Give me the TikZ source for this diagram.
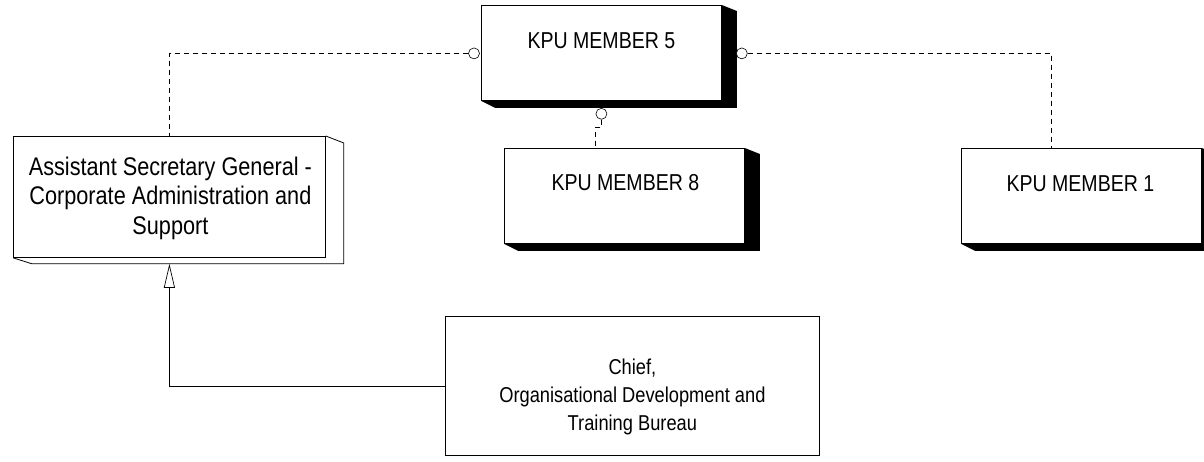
\documentclass[tikz,border=0pt]{standalone}
\usepackage{fontspec}
\setmainfont{Liberation Sans}
\newfontfamily\nsans[FakeStretch=0.85]{Liberation Sans}
\usetikzlibrary{arrows.meta,calc}
\begin{document}
\begin{tikzpicture}[x=1pt,y=-1pt,
  box/.style={draw=black,line width=0.8pt,fill=white,inner sep=0pt,anchor=north west},
  port/.style={circle,draw=black,line width=0.6pt,fill=white,minimum size=11pt,inner sep=0pt},
  link/.style={draw=black,line width=0.7pt,dash pattern=on 5pt off 4pt},
  solidlink/.style={draw=black,line width=0.7pt},
  kputext/.style={font=\nsans\fontsize{23}{28}\selectfont,inner sep=0pt},
  asgtext/.style={font=\nsans\fontsize{25.5}{29.5}\selectfont,inner sep=0pt,align=center},
  chieftext/.style={font=\nsans\fontsize{21.5}{28}\selectfont,inner sep=0pt,align=center}
]
\useasboundingbox (0,0) rectangle (1204,461);
\fill[white] (0,0) rectangle (1204,461);

% KPU MEMBER 5
\node[box,minimum width=240pt,minimum height=95pt] (k5) at (481,5) {};
\fill[black] (k5.north east) -- ++(15,6) -- ($(k5.south east)+(15,7)$) -- ($(k5.south west)+(14,7)$) -- (k5.south west) -- (k5.south east) -- cycle;
\node[kputext] (k5t) at ($(k5.center)+(0,-12.5)$) {KPU MEMBER 5};

% KPU MEMBER 8
\node[box,minimum width=240pt,minimum height=95pt] (k8) at (504,148) {};
\fill[black] (k8.north east) -- ++(15,6) -- ($(k8.south east)+(15,7)$) -- ($(k8.south west)+(14,7)$) -- (k8.south west) -- (k8.south east) -- cycle;
\node[kputext] (k8t) at ($(k8.center)+(1,-13.5)$) {KPU MEMBER 8};

% KPU MEMBER 1
\node[box,minimum width=240pt,minimum height=95pt] (k1) at (961,148) {};
\fill[black] (k1.north east) -- ++(15,6) -- ($(k1.south east)+(15,7)$) -- ($(k1.south west)+(14,7)$) -- (k1.south west) -- (k1.south east) -- cycle;
\node[kputext] (k1t) at ($(k1.center)+(-1,-12.5)$) {KPU MEMBER 1};

% Assistant Secretary General
\node[box,minimum width=312pt,minimum height=121pt] (asg) at (13,136) {};
\draw[line width=0.8pt] (asg.north east) -- ++(18,7) -- ($(asg.south east)+(18,6)$) -- ($(asg.south west)+(19,6)$) -- (asg.south west);
\node[asgtext] (asgt) at ($(asg.center)+(1,1.5)$) {Assistant Secretary General -\\Corporate Administration and\\Support};

% Chief
\node[box,minimum width=374pt,minimum height=139pt] (ch) at (445,316) {};
\node[chieftext] (cht) at ($(ch.center)+(0,11)$) {Chief,\\Organisational Development and\\Training Bureau};

% ports
\node[port] (p5l) at ($(k5.west)+(-7,0.5)$) {};
\node[port] (p5r) at ($(k5.east)+(20,0.5)$) {};
\node[port] (p5b) at ($(k5.south)+(0,13)$) {};

% connectors
\coordinate (k1top) at ($(k1.north)+(-30,0)$);
\coordinate (k8top) at ($(k8.north)+(-29,0)$);
\coordinate (asgbot) at ($(asg.south)+(0,6)$);
\draw[link] (p5l.west) -| (asg.north);
\draw[link] (p5r.east) -| (k1top);
\draw[link] (p5b.south) -- ++(0,8) -| (k8top);
\draw[solidlink,-{Triangle[open,length=24pt,width=11pt]}] (ch.west) -| (asgbot);
\end{tikzpicture}
\end{document}
